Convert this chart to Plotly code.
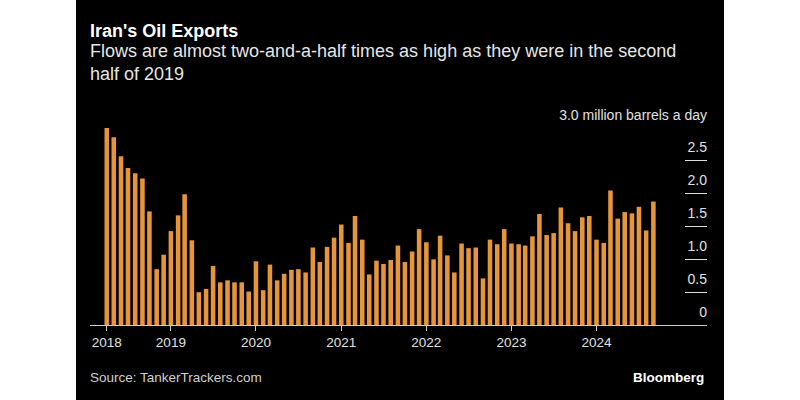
import pandas as pd
import plotly.graph_objects as go

# Monthly Iranian oil exports, million barrels a day (Apr 2018 - Sep 2024)
months = pd.date_range("2018-04-01", periods=78, freq="MS")
exports = [
    3.00, 2.86, 2.57, 2.39, 2.31, 2.23, 1.73, 0.85, 1.07, 1.43, 1.67, 1.99, 1.29,
    0.50, 0.55, 0.90, 0.65, 0.68, 0.65, 0.65, 0.51,
    0.97, 0.53, 0.92, 0.68,
    0.78, 0.84, 0.85, 0.80, 1.18, 0.96, 1.19, 1.33,
    1.53, 1.25, 1.66, 1.30, 0.77, 0.98, 0.93, 0.99, 1.21, 0.96, 1.12, 1.46,
    1.26, 1.00, 1.36, 1.06, 0.80, 1.24, 1.17, 1.18, 0.71, 1.30, 1.23, 1.46,
    1.24, 1.23, 1.21, 1.35, 1.69, 1.37, 1.40, 1.79, 1.55, 1.43, 1.64, 1.66,
    1.30, 1.25, 2.05, 1.62, 1.72, 1.70, 1.80, 1.44, 1.88,
]

x_tick_vals = ["2018-04-01", "2019-01-01", "2020-01-01", "2021-01-01",
               "2022-01-01", "2023-01-01", "2024-01-01"]
x_tick_text = ["2018", "2019", "2020", "2021", "2022", "2023", "2024"]
y_tick_vals = [0, 0.5, 1.0, 1.5, 2.0, 2.5, 3.0]
y_tick_text = ["0", "0.5", "1.0", "1.5", "2.0", "2.5", "3.0 million barrels a day"]

FONT = "Liberation Sans, Arial, Helvetica, sans-serif"
BAR = "#E5953A"

W, H = 800, 400
L, R, T, B = 90, 93, 128, 75
PW, PH = W - L - R, H - T - B


def px_x(px):
    return (px - L) / PW


def px_y(py):
    return (H - B - py) / PH


fig = go.Figure()
fig.add_bar(x=months, y=exports, marker_color=BAR, marker_line_width=0,
            hoverinfo="x+y")

fig.update_layout(
    width=W, height=H,
    margin=dict(l=L, r=R, t=T, b=B),
    paper_bgcolor="white",
    plot_bgcolor="black",
    bargap=0.3,
    showlegend=False,
    font=dict(family=FONT, color="#e0e0e0"),
    shapes=[dict(type="rect", xref="paper", yref="paper", layer="below",
                 x0=px_x(76), x1=px_x(724), y0=px_y(400), y1=px_y(0),
                 fillcolor="black", line_width=0)],
    xaxis=dict(
        type="date", range=["2018-01-19", "2025-04-19"],
        tickvals=x_tick_vals, ticktext=x_tick_text,
        ticks="outside", ticklen=5, tickcolor="#cccccc", tickwidth=1,
        showline=True, linecolor="#cccccc", linewidth=1,
        showgrid=False, zeroline=False,
        tickfont=dict(size=13.5, color="#e0e0e0"),
    ),
    yaxis=dict(
        side="right", range=[0, 3.0],
        tickvals=y_tick_vals, ticktext=y_tick_text,
        ticks="inside", ticklen=22, tickcolor="#dddddd", tickwidth=1,
        ticklabelposition="inside top", ticklabeloverflow="allow",
        ticklabelstandoff=-3, ticklabelshift=-3,
        showgrid=False, zeroline=False, showline=False,
        tickfont=dict(size=14, color="#e0e0e0"),
    ),
    annotations=[
        dict(text="<b>Iran's Oil Exports</b>", xref="paper", yref="paper",
             x=px_x(88), y=px_y(31), xanchor="left", yanchor="middle",
             showarrow=False, font=dict(size=18, color="white")),
        dict(text="Flows are almost two-and-a-half times as high as they were in the second<br>half of 2019",
             xref="paper", yref="paper", x=px_x(88), y=px_y(62),
             xanchor="left", yanchor="middle", align="left",
             showarrow=False, font=dict(size=18, color="#e6e6e6")),
        dict(text="Source: TankerTrackers.com", xref="paper", yref="paper",
             x=px_x(88), y=px_y(377), xanchor="left", yanchor="middle",
             showarrow=False, font=dict(size=13.5, color="#d0d0d0")),
        dict(text="<b>Bloomberg</b>", xref="paper", yref="paper",
             x=px_x(706), y=px_y(377), xanchor="right", yanchor="middle",
             showarrow=False, font=dict(size=13.5, color="white")),
    ],
)

fig.write_html("out.html")
